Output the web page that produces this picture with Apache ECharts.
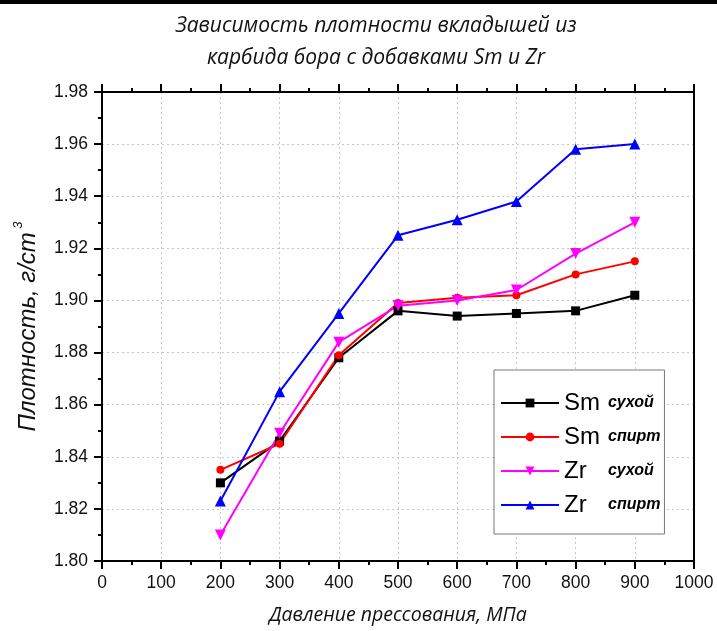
<!DOCTYPE html>
<html>
<head>
<meta charset="utf-8">
<script src="https://cdn.jsdelivr.net/npm/echarts@6/dist/echarts.min.js"></script>
<style>html,body{margin:0;padding:0;background:#fff}#c{width:717px;height:631px}</style>
</head>
<body>
<div id="c"></div>
<script>
const pressures = [200, 300, 400, 500, 600, 700, 800, 900];
const smDry = [1.830, 1.846, 1.878, 1.896, 1.894, 1.895, 1.896, 1.902];
const smAlc = [1.835, 1.845, 1.879, 1.899, 1.901, 1.902, 1.910, 1.915];
const zrDry = [1.810, 1.849, 1.884, 1.898, 1.900, 1.904, 1.918, 1.930];
const zrAlc = [1.823, 1.865, 1.895, 1.925, 1.931, 1.938, 1.958, 1.960];
const seriesNames = ['Sm|сухой', 'Sm|спирт', 'Zr|сухой', 'Zr|спирт'];
const titleText = 'Зависимость плотности вкладышей из\nкарбида бора с добавками Sm и Zr';
const xName = 'Давление прессования, МПа';
const yName = 'Плотность, г/cm';

const pairs = arr => pressures.map((p, i) => [p, arr[i]]);
const chart = echarts.init(document.getElementById('c'), null, {renderer: 'canvas'});
const tickFont = {fontFamily: 'Liberation Sans, Arial, sans-serif', fontSize: 17.5, color: '#111'};
const gridLine = {show: true, lineStyle: {color: '#c8c8c8', type: [2, 3], width: 1}};

function mkSeries(name, data, color, symbol, size) {
  return {
    name: name, type: 'line', data: pairs(data), symbol: symbol, symbolSize: size,
    lineStyle: {color: color, width: 2}, itemStyle: {color: color}, z: 3
  };
}

chart.setOption({
  animation: false,
  backgroundColor: '#fff',
  title: {
    text: titleText, left: 371, top: 5, textAlign: 'center',
    textStyle: {fontFamily: 'Open Sans', fontStyle: 'italic', fontWeight: 'normal', fontSize: 21, lineHeight: 32, color: '#111'}
  },
  grid: {left: 102, right: 23, top: 92, bottom: 70, containLabel: false, outerBoundsMode: 'none'},
  legend: {
    orient: 'vertical', left: 494, top: 370, width: 172,
    padding: [21, 4, 17, 6], itemGap: 10, itemWidth: 58, itemHeight: 11,
    borderColor: '#777', borderWidth: 1, backgroundColor: '#fff',
    data: seriesNames,
    formatter: function (n) { const p = n.split('|'); return '{a|' + p[0] + '}{b|' + p[1] + '}'; },
    textStyle: {
      rich: {
        a: {fontFamily: 'Liberation Sans, Arial', fontSize: 24, width: 44, lineHeight: 24, color: '#000'},
        b: {fontFamily: 'Liberation Sans, Arial', fontStyle: 'italic', fontWeight: 'bold', fontSize: 16, lineHeight: 24, color: '#000'}
      }
    }
  },
  xAxis: [{
    type: 'value', position: 'bottom', min: 0, max: 1000, interval: 100,
    name: xName, nameLocation: 'middle', nameGap: 44,
    nameTextStyle: {fontFamily: 'Open Sans', fontStyle: 'italic', fontSize: 19.5, color: '#111'},
    axisLine: {show: true, onZero: false, lineStyle: {color: '#000', width: 2}},
    axisTick: {show: true, inside: false, length: 8, lineStyle: {color: '#000', width: 2}},
    minorTick: {show: true, splitNumber: 2, length: 4, lineStyle: {color: '#000', width: 2}},
    axisLabel: Object.assign({margin: 13, formatter: v => String(v)}, tickFont),
    splitLine: gridLine
  }, {
    type: 'value', position: 'top', min: 0, max: 1000, interval: 100,
    axisLine: {show: true, onZero: false, lineStyle: {color: '#000', width: 2}},
    axisTick: {show: true, inside: false, length: 8, lineStyle: {color: '#000', width: 2}},
    minorTick: {show: true, splitNumber: 2, length: 4, lineStyle: {color: '#000', width: 2}},
    axisLabel: {show: false}, splitLine: {show: false}
  }],
  yAxis: [{
    type: 'value', position: 'left', min: 1.80, max: 1.98, interval: 0.02,
    name: '{n|' + yName + '} {s|3}', nameLocation: 'middle', nameGap: 57,
    nameTextStyle: {
      rich: {
        n: {fontFamily: 'Liberation Sans, Arial', fontStyle: 'italic', fontSize: 24, color: '#111'},
        s: {fontFamily: 'Liberation Sans, Arial', fontStyle: 'italic', fontSize: 13, color: '#111', padding: [0, 0, 20, 0]}
      }
    },
    axisLine: {show: true, onZero: false, lineStyle: {color: '#000', width: 2}},
    axisTick: {show: true, inside: false, length: 8, lineStyle: {color: '#000', width: 2}},
    minorTick: {show: true, splitNumber: 2, length: 4, lineStyle: {color: '#000', width: 2}},
    axisLabel: Object.assign({margin: 14, formatter: v => v.toFixed(2)}, tickFont),
    splitLine: gridLine
  }, {
    type: 'value', position: 'right', min: 1.80, max: 1.98, interval: 0.02,
    axisLine: {show: true, onZero: false, lineStyle: {color: '#000', width: 2}},
    axisTick: {show: false}, axisLabel: {show: false}, splitLine: {show: false}
  }],
  graphic: [{type: 'rect', left: 0, top: 0, shape: {width: 717, height: 4}, style: {fill: '#000'}}],
  series: [
    mkSeries(seriesNames[0], smDry, '#000000', 'rect', 9),
    mkSeries(seriesNames[1], smAlc, '#ff0000', 'circle', 8),
    mkSeries(seriesNames[2], zrDry, '#ff00ff', 'path://M0,0 L10,0 L5,9 Z', 11),
    mkSeries(seriesNames[3], zrAlc, '#0000ff', 'triangle', 11)
  ]
});
</script>
</body>
</html>
